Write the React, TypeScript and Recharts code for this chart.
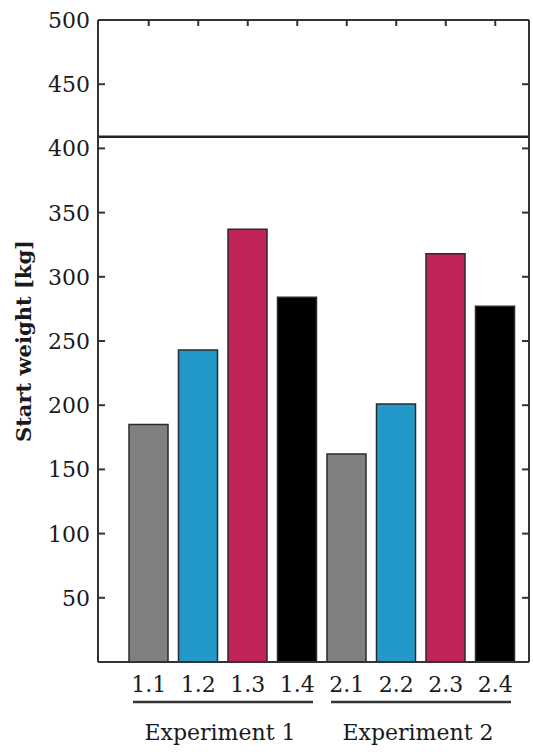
import { BarChart, Bar, XAxis, YAxis, Cell, ReferenceLine } from 'recharts'

const CATEGORIES = ['1.1', '1.2', '1.3', '1.4', '2.1', '2.2', '2.3', '2.4']
const GROUPS = ['Experiment 1', 'Experiment 1', 'Experiment 1', 'Experiment 1', 'Experiment 2', 'Experiment 2', 'Experiment 2', 'Experiment 2']
const START_WEIGHT = [185, 243, 337, 284, 162, 201, 318, 277]
const BAR_COLORS = ['#808080', '#2399c9', '#c0225a', '#000000', '#808080', '#2399c9', '#c0225a', '#000000']
const Y_TICKS = [50, 100, 150, 200, 250, 300, 350, 400, 450, 500]
const LIMIT_LINE = 409

const data = CATEGORIES.map((name, i) => ({
  name,
  group: GROUPS[i],
  weight: START_WEIGHT[i],
}))

const FONT = '"DejaVu Serif", serif'
const AXIS_COLOR = '#333'
const X_PADDING = { left: 26, right: 9 }
const CHART_W = 533
const RIGHT_AXIS_W = 4

// left axis tick: label outside, inward marks on both frame sides
const LeftTick = (props: any) => {
  const { x, y, payload } = props
  const right = CHART_W - RIGHT_AXIS_W
  return (
    <g>
      <path d={`M${x},${y}h7`} stroke={AXIS_COLOR} strokeWidth={2} fill="none" />
      <path d={`M${right},${y}h-7`} stroke={AXIS_COLOR} strokeWidth={2} fill="none" />
      <text x={x - 8} y={y} dy="0.36em" textAnchor="end" fontSize={22} fontFamily={FONT} fill="#1a1a1a">
        {payload.value}
      </text>
    </g>
  )
}

const CategoryTick = (props: any) => {
  const { x, y, payload } = props
  return (
    <text x={x} y={y + 30} textAnchor="middle" fontSize={22} fontFamily={FONT} fill="#1a1a1a">
      {payload.value}
    </text>
  )
}

const GroupTick = (props: any) => {
  const { x, y, payload } = props
  return (
    <g>
      <line x1={x - 90} x2={x + 90} y1={y + 4} y2={y + 4} stroke="#333" strokeWidth={2.5} />
      <text x={x - 3} y={y + 42} textAnchor="middle" fontSize={22} fontFamily={FONT} fill="#1a1a1a">
        {payload.value}
      </text>
    </g>
  )
}

const EmptyTick = () => <g />

export default function App() {
  return (
    <div style={{ width: CHART_W, height: 752, background: '#fff' }}>
      <style>{'body{margin:0}'}</style>
      <BarChart
        width={CHART_W}
        height={752}
        data={data}
        margin={{ top: 0, right: 0, bottom: 0, left: 0 }}
      >
        <XAxis
          dataKey="name"
          padding={X_PADDING}
          height={36}
          tickLine={false}
          tickSize={0}
          tickMargin={0}
          tick={<CategoryTick />}
          axisLine={{ stroke: AXIS_COLOR, strokeWidth: 2 }}
          interval={0}
        />
        <XAxis
          xAxisId="grp"
          dataKey="group"
          allowDuplicatedCategory={false}
          padding={X_PADDING}
          height={54}
          tickLine={false}
          tickSize={0}
          tickMargin={0}
          axisLine={false}
          tick={<GroupTick />}
          interval={0}
        />
        <XAxis
          xAxisId="top"
          dataKey="name"
          orientation="top"
          height={20}
          padding={X_PADDING}
          tickSize={-6}
          tick={EmptyTick}
          tickLine={{ stroke: AXIS_COLOR, strokeWidth: 2 }}
          axisLine={{ stroke: AXIS_COLOR, strokeWidth: 2 }}
          interval={0}
        />
        <YAxis
          domain={[0, 500]}
          ticks={Y_TICKS}
          width={98}
          tickSize={0}
          tickMargin={0}
          tickLine={false}
          tick={<LeftTick />}
          interval={0}
          axisLine={{ stroke: AXIS_COLOR, strokeWidth: 2 }}
          label={{
            value: 'Start weight [kg]',
            angle: -90,
            position: 'insideLeft',
            offset: 24,
            style: { textAnchor: 'middle', fontFamily: FONT, fontSize: 21, fontWeight: 'bold', fill: '#1a1a1a' },
          }}
        />
        <YAxis
          yAxisId="r"
          orientation="right"
          width={RIGHT_AXIS_W}
          domain={[0, 500]}
          tickLine={false}
          tick={false}
          axisLine={{ stroke: AXIS_COLOR, strokeWidth: 2 }}
        />
        <ReferenceLine y={LIMIT_LINE} stroke="#222" strokeWidth={2.5} />
        <Bar
          dataKey="weight"
          barSize={39}
          stroke="#2a2a2a"
          strokeWidth={1.5}
          isAnimationActive={false}
        >
          {data.map((_, i) => (
            <Cell key={`cell-${i}`} fill={BAR_COLORS[i]} />
          ))}
        </Bar>
      </BarChart>
    </div>
  )
}
